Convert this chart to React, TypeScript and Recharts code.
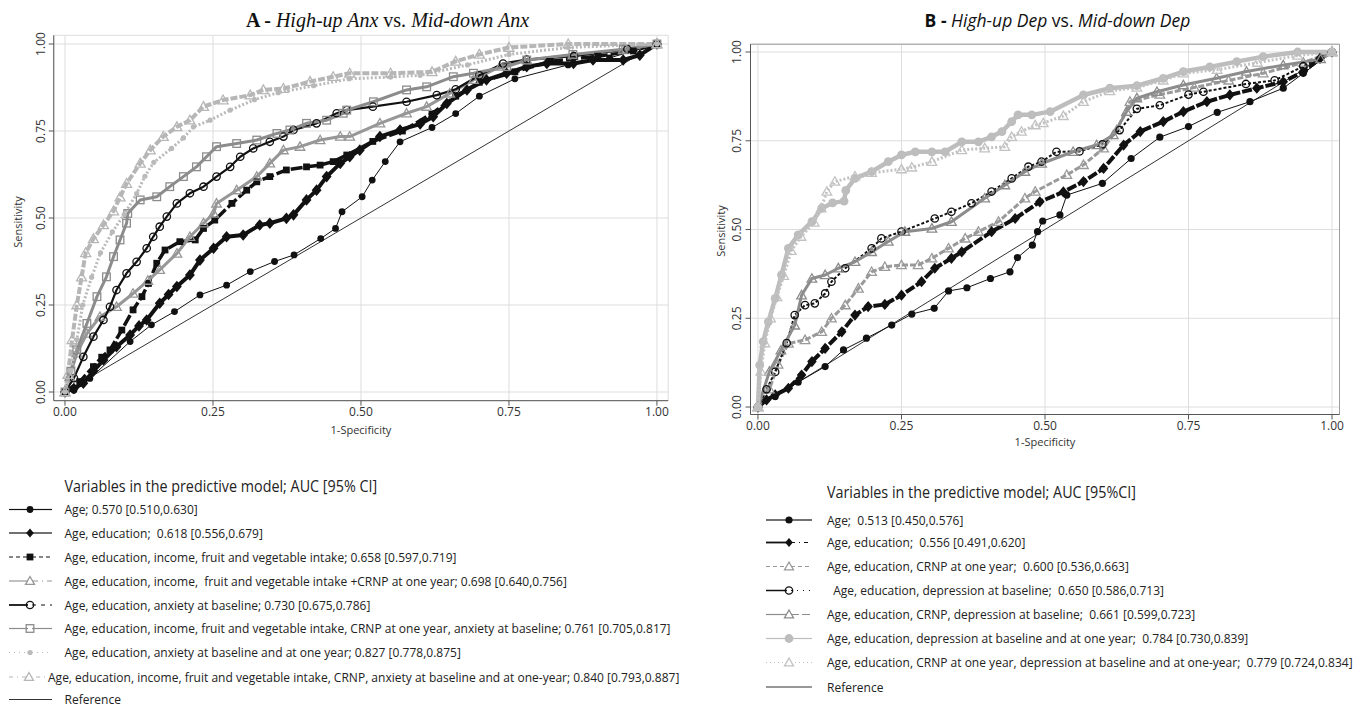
import React from 'react';
import { LineChart, Line, XAxis, YAxis, CartesianGrid, ReferenceArea, Label } from 'recharts';

type Pt = [number, number];

// ---------------- tick values / labels ----------------
const TICKS = [0, 0.25, 0.5, 0.75, 1];
const TICK_LABELS = ['0.00', '0.25', '0.50', '0.75', '1.00'];
const REFERENCE: Pt[] = [[0, 0], [1, 1]];

// ---------------- Panel A: High-up Anx vs. Mid-down Anx ----------------
const A_AGE: Pt[] = [[0,0],[0.015,0.005],[0.042,0.039],[0.11,0.145],[0.146,0.193],[0.185,0.231],[0.228,0.279],[0.273,0.307],[0.313,0.346],[0.354,0.375],[0.387,0.394],[0.432,0.441],[0.457,0.47],[0.468,0.518],[0.502,0.561],[0.519,0.609],[0.541,0.662],[0.566,0.719],[0.62,0.76],[0.66,0.8],[0.7,0.85],[0.76,0.9],[0.85,0.94],[0.92,0.96],[1,1]];
const A_AGE_EDU: Pt[] = [[0,0],[0.015,0.01],[0.031,0.025],[0.048,0.06],[0.065,0.092],[0.087,0.13],[0.11,0.164],[0.125,0.19],[0.138,0.207],[0.16,0.255],[0.175,0.28],[0.189,0.303],[0.211,0.336],[0.228,0.379],[0.251,0.413],[0.273,0.446],[0.301,0.451],[0.329,0.48],[0.346,0.485],[0.374,0.499],[0.386,0.509],[0.408,0.552],[0.425,0.58],[0.442,0.619],[0.465,0.657],[0.481,0.676],[0.498,0.695],[0.532,0.734],[0.566,0.753],[0.6,0.77],[0.622,0.791],[0.645,0.829],[0.679,0.868],[0.712,0.897],[0.746,0.916],[0.78,0.935],[0.814,0.944],[0.859,0.944],[0.892,0.954],[0.943,0.954],[0.971,0.968],[1,1]];
const A_INC_FV: Pt[] = [[0,0],[0.025,0.03],[0.048,0.073],[0.062,0.1],[0.076,0.121],[0.096,0.178],[0.115,0.236],[0.13,0.274],[0.141,0.312],[0.155,0.37],[0.169,0.408],[0.194,0.432],[0.22,0.437],[0.234,0.47],[0.253,0.494],[0.282,0.542],[0.307,0.58],[0.324,0.604],[0.346,0.619],[0.374,0.638],[0.408,0.647],[0.431,0.652],[0.453,0.662],[0.476,0.681],[0.52,0.72],[0.57,0.75],[0.62,0.8],[0.66,0.85],[0.7,0.89],[0.76,0.92],[0.82,0.95],[0.9,0.965],[0.96,0.98],[1,1]];
const A_INC_FV_CRNP: Pt[] = [[0,0],[0.008,0.044],[0.02,0.111],[0.037,0.168],[0.059,0.216],[0.087,0.245],[0.115,0.283],[0.14,0.32],[0.16,0.351],[0.189,0.398],[0.211,0.446],[0.234,0.485],[0.251,0.513],[0.256,0.542],[0.29,0.58],[0.324,0.619],[0.346,0.657],[0.369,0.695],[0.397,0.705],[0.431,0.724],[0.465,0.734],[0.481,0.734],[0.532,0.772],[0.577,0.801],[0.611,0.82],[0.65,0.858],[0.69,0.897],[0.735,0.935],[0.78,0.954],[0.858,0.968],[0.943,0.983],[1,1]];
const A_ANX: Pt[] = [[0,0],[0.015,0.04],[0.031,0.101],[0.048,0.159],[0.065,0.207],[0.076,0.245],[0.087,0.293],[0.104,0.341],[0.121,0.374],[0.138,0.413],[0.149,0.446],[0.16,0.475],[0.172,0.504],[0.189,0.542],[0.211,0.571],[0.234,0.59],[0.256,0.619],[0.279,0.647],[0.296,0.676],[0.318,0.7],[0.346,0.719],[0.369,0.734],[0.386,0.753],[0.425,0.772],[0.459,0.801],[0.476,0.81],[0.52,0.82],[0.577,0.834],[0.628,0.853],[0.66,0.87],[0.7,0.91],[0.74,0.944],[0.78,0.955],[0.86,0.965],[0.95,0.985],[1,1]];
const A_INC_FV_CRNP_ANX: Pt[] = [[0,0],[0.01,0.06],[0.02,0.121],[0.037,0.197],[0.054,0.274],[0.07,0.331],[0.082,0.389],[0.093,0.437],[0.104,0.485],[0.106,0.513],[0.127,0.552],[0.155,0.561],[0.177,0.59],[0.2,0.619],[0.222,0.647],[0.239,0.676],[0.256,0.705],[0.29,0.714],[0.324,0.724],[0.358,0.743],[0.38,0.753],[0.408,0.772],[0.442,0.781],[0.47,0.801],[0.476,0.81],[0.521,0.834],[0.577,0.868],[0.611,0.877],[0.656,0.906],[0.69,0.916],[0.746,0.935],[0.78,0.954],[0.858,0.97],[0.943,0.985],[1,1]];
const A_ANX_1Y: Pt[] = [[0,0],[0.01,0.06],[0.02,0.15],[0.03,0.25],[0.045,0.33],[0.06,0.4],[0.08,0.46],[0.1,0.51],[0.121,0.57],[0.135,0.62],[0.15,0.66],[0.18,0.7],[0.2,0.73],[0.217,0.762],[0.245,0.781],[0.279,0.81],[0.32,0.84],[0.36,0.86],[0.42,0.88],[0.48,0.9],[0.55,0.905],[0.6,0.91],[0.68,0.94],[0.75,0.97],[0.85,0.99],[1,1]];
const A_ALL: Pt[] = [[0,0],[0.005,0.05],[0.012,0.15],[0.02,0.25],[0.028,0.33],[0.035,0.4],[0.048,0.44],[0.065,0.48],[0.082,0.52],[0.093,0.56],[0.104,0.599],[0.127,0.657],[0.144,0.695],[0.166,0.734],[0.189,0.762],[0.211,0.781],[0.234,0.82],[0.267,0.839],[0.313,0.853],[0.335,0.868],[0.369,0.872],[0.414,0.892],[0.453,0.906],[0.481,0.916],[0.55,0.916],[0.62,0.92],[0.66,0.95],[0.7,0.97],[0.75,0.99],[0.85,1],[1,1]];

const A_LABELS = [
  'Age; 0.570 [0.510,0.630]',
  'Age, education;  0.618 [0.556,0.679]',
  'Age, education, income, fruit and vegetable intake; 0.658 [0.597,0.719]',
  'Age, education, income,  fruit and vegetable intake +CRNP at one year; 0.698 [0.640,0.756]',
  'Age, education, anxiety at baseline; 0.730 [0.675,0.786]',
  'Age, education, income, fruit and vegetable intake, CRNP at one year, anxiety at baseline; 0.761 [0.705,0.817]',
  'Age, education, anxiety at baseline and at one year; 0.827 [0.778,0.875]',
  'Age, education, income, fruit and vegetable intake, CRNP, anxiety at baseline and at one-year; 0.840 [0.793,0.887]',
];

// ---------------- Panel B: High-up Dep vs. Mid-down Dep ----------------
const B_AGE: Pt[] = [[0,0],[0.03,0.03],[0.07,0.07],[0.117,0.114],[0.149,0.161],[0.189,0.194],[0.233,0.231],[0.268,0.262],[0.307,0.278],[0.332,0.327],[0.364,0.336],[0.405,0.362],[0.439,0.381],[0.452,0.421],[0.478,0.456],[0.487,0.494],[0.496,0.524],[0.526,0.541],[0.538,0.597],[0.6,0.63],[0.65,0.7],[0.7,0.76],[0.75,0.79],[0.8,0.83],[0.857,0.86],[0.915,0.898],[0.95,0.94],[1,1]];
const B_AGE_EDU: Pt[] = [[0,0],[0.015,0.02],[0.03,0.034],[0.053,0.053],[0.076,0.09],[0.094,0.128],[0.117,0.165],[0.146,0.212],[0.169,0.259],[0.192,0.283],[0.221,0.289],[0.25,0.315],[0.285,0.353],[0.308,0.391],[0.337,0.419],[0.355,0.437],[0.407,0.494],[0.448,0.531],[0.491,0.578],[0.532,0.606],[0.567,0.635],[0.602,0.672],[0.637,0.738],[0.666,0.776],[0.706,0.804],[0.741,0.832],[0.782,0.86],[0.822,0.879],[0.869,0.898],[0.915,0.916],[0.95,0.945],[0.979,0.982],[1,1]];
const B_CRNP: Pt[] = [[0,0],[0.02,0.05],[0.035,0.12],[0.053,0.179],[0.082,0.189],[0.111,0.212],[0.128,0.25],[0.152,0.287],[0.175,0.334],[0.198,0.381],[0.221,0.395],[0.25,0.4],[0.279,0.4],[0.303,0.419],[0.332,0.447],[0.361,0.475],[0.384,0.494],[0.419,0.522],[0.465,0.588],[0.483,0.607],[0.538,0.654],[0.567,0.682],[0.602,0.729],[0.625,0.78],[0.648,0.86],[0.7,0.88],[0.76,0.9],[0.82,0.92],[0.88,0.94],[0.95,0.97],[1,1]];
const B_DEP: Pt[] = [[0,0],[0.015,0.05],[0.03,0.099],[0.05,0.18],[0.064,0.259],[0.082,0.287],[0.099,0.292],[0.117,0.32],[0.128,0.353],[0.152,0.391],[0.198,0.447],[0.215,0.475],[0.25,0.494],[0.308,0.531],[0.337,0.55],[0.372,0.574],[0.407,0.607],[0.442,0.644],[0.471,0.677],[0.494,0.691],[0.52,0.719],[0.56,0.72],[0.6,0.74],[0.63,0.78],[0.66,0.84],[0.7,0.85],[0.75,0.88],[0.776,0.888],[0.85,0.91],[0.9,0.92],[0.95,0.96],[1,1]];
const B_CRNP_DEP: Pt[] = [[0,0],[0.02,0.1],[0.04,0.16],[0.064,0.23],[0.076,0.315],[0.094,0.362],[0.117,0.372],[0.14,0.391],[0.169,0.409],[0.198,0.437],[0.227,0.466],[0.256,0.494],[0.303,0.503],[0.337,0.522],[0.395,0.588],[0.43,0.625],[0.465,0.663],[0.494,0.686],[0.549,0.719],[0.59,0.738],[0.619,0.766],[0.642,0.832],[0.66,0.87],[0.695,0.888],[0.741,0.907],[0.799,0.926],[0.851,0.945],[0.915,0.963],[0.98,0.98],[1,1]];
const B_DEP_1Y: Pt[] = [[0,0],[0.003,0.118],[0.009,0.184],[0.018,0.24],[0.03,0.306],[0.041,0.372],[0.053,0.447],[0.07,0.485],[0.094,0.522],[0.111,0.56],[0.13,0.575],[0.15,0.58],[0.153,0.61],[0.169,0.644],[0.198,0.663],[0.227,0.691],[0.25,0.71],[0.274,0.719],[0.303,0.719],[0.326,0.719],[0.355,0.747],[0.384,0.747],[0.407,0.761],[0.425,0.776],[0.442,0.804],[0.453,0.823],[0.477,0.823],[0.509,0.832],[0.567,0.879],[0.613,0.898],[0.66,0.905],[0.706,0.926],[0.741,0.945],[0.787,0.958],[0.834,0.973],[0.88,0.987],[0.94,1],[1,1]];
const B_CRNP_DEP_1Y: Pt[] = [[0,0],[0.005,0.1],[0.012,0.18],[0.022,0.25],[0.033,0.31],[0.045,0.37],[0.058,0.44],[0.075,0.48],[0.098,0.52],[0.11,0.56],[0.12,0.607],[0.134,0.635],[0.169,0.65],[0.198,0.66],[0.25,0.67],[0.268,0.675],[0.303,0.691],[0.355,0.724],[0.395,0.729],[0.43,0.733],[0.442,0.761],[0.459,0.776],[0.483,0.794],[0.497,0.8],[0.532,0.82],[0.567,0.86],[0.613,0.89],[0.66,0.9],[0.706,0.92],[0.741,0.94],[0.8,0.95],[0.87,0.97],[0.94,0.99],[1,1]];

const B_LABELS = [
  'Age;  0.513 [0.450,0.576]',
  'Age, education;  0.556 [0.491,0.620]',
  'Age, education, CRNP at one year;  0.600 [0.536,0.663]',
  '  Age, education, depression at baseline;  0.650 [0.586,0.713]',
  'Age, education, CRNP, depression at baseline;  0.661 [0.599,0.723]',
  'Age, education, depression at baseline and at one year;  0.784 [0.730,0.839]',
  'Age, education, CRNP at one year, depression at baseline and at one-year;  0.779 [0.724,0.834]',
];

// ---------------- styles ----------------
const BLACK = '#111111';
const SANS = "'Open Sans', 'DejaVu Sans', sans-serif";

type Series = {
  data: Pt[]; label: string; color: string; marker: string; size: number;
  band: number; dash?: string; legL?: string; legR?: string; legW?: number; textX?: number;
};

const SERIES_A: Series[] = [
  { data: A_AGE, label: A_LABELS[0], color: BLACK, marker: 'circle', size: 3.4, band: 1 },
  { data: A_AGE_EDU, label: A_LABELS[1], color: BLACK, marker: 'diamond', size: 5.8, band: 4 },
  { data: A_INC_FV, label: A_LABELS[2], color: BLACK, marker: 'square', size: 3.4, band: 3.5, dash: '12 3', legL: '4 3', legR: '4 3' },
  { data: A_INC_FV_CRNP, label: A_LABELS[3], color: '#979797', marker: 'otri', size: 4.8, band: 3, legR: '6 4 1 4' },
  { data: A_ANX, label: A_LABELS[4], color: BLACK, marker: 'ocircle', size: 3.7, band: 2.2, legR: '4 5', legW: 1.8 },
  { data: A_INC_FV_CRNP_ANX, label: A_LABELS[5], color: '#8c8c8c', marker: 'osquare', size: 3.8, band: 3 },
  { data: A_ANX_1Y, label: A_LABELS[6], color: '#bababa', marker: 'dot', size: 2.6, band: 3, dash: '2 2', legL: '1 4', legR: '1 4' },
  { data: A_ALL, label: A_LABELS[7], color: '#b6b6b6', marker: 'otri', size: 5, band: 4, dash: '7 2', legL: '4 4 1 4', legR: '1 4 4 4', textX: 48 },
];

const SERIES_B: Series[] = [
  { data: B_AGE, label: B_LABELS[0], color: BLACK, marker: 'circle', size: 3.6, band: 1 },
  { data: B_AGE_EDU, label: B_LABELS[1], color: BLACK, marker: 'diamond', size: 5.6, band: 4, dash: '10 2', legR: '4 4 1 4', legW: 1.8 },
  { data: B_CRNP, label: B_LABELS[2], color: '#9a9a9a', marker: 'otri', size: 4.8, band: 3, dash: '6 2', legL: '4 3', legR: '4 3' },
  { data: B_DEP, label: B_LABELS[3], color: BLACK, marker: 'ocircle', size: 3.7, band: 2, dash: '3 2', legR: '1 5', legW: 1.5 },
  { data: B_CRNP_DEP, label: B_LABELS[4], color: '#8c8c8c', marker: 'otri', size: 4.8, band: 3, legR: '8 3' },
  { data: B_DEP_1Y, label: B_LABELS[5], color: '#bdbdbd', marker: 'circle', size: 4.4, band: 4.5 },
  { data: B_CRNP_DEP_1Y, label: B_LABELS[6], color: '#c2c2c2', marker: 'otri', size: 4.8, band: 3, dash: '2 2', legL: '1 3', legR: '1 3' },
];

const toRows = (pts: Pt[]) => pts.map(([x, y]) => ({ x, y }));

function Marker({ kind, cx, cy, color, size }: any) {
  if (cx == null || cy == null || isNaN(cx) || isNaN(cy)) return null;
  const s = size;
  switch (kind) {
    case 'circle':
      return <circle cx={cx} cy={cy} r={s} fill={color} />;
    case 'ocircle':
      return <circle cx={cx} cy={cy} r={s} fill="none" stroke={color} strokeWidth={1.3} />;
    case 'diamond':
      return <polygon points={`${cx},${cy - s} ${cx + s * 0.85},${cy} ${cx},${cy + s} ${cx - s * 0.85},${cy}`} fill={color} />;
    case 'square':
      return <rect x={cx - s} y={cy - s} width={2 * s} height={2 * s} fill={color} />;
    case 'osquare':
      return <rect x={cx - s} y={cy - s} width={2 * s} height={2 * s} fill="none" stroke={color} strokeWidth={1.3} />;
    case 'otri':
      return <polygon points={`${cx},${cy - s} ${cx + s},${cy + s * 0.75} ${cx - s},${cy + s * 0.75}`} fill="none" stroke={color} strokeWidth={1.3} />;
    case 'dot':
      return <circle cx={cx} cy={cy} r={s} fill={color} />;
    default:
      return null;
  }
}

const YTick = (props: any) => {
  const { x, y, payload } = props;
  const bx = x - 1;
  const i = TICKS.indexOf(payload.value);
  return (
    <text x={bx} y={y} transform={`rotate(-90 ${bx} ${y})`} textAnchor="middle" fontSize={12} fill="#333" fontFamily={SANS}>
      {i >= 0 ? TICK_LABELS[i] : payload.value}
    </text>
  );
};

type PanelProps = {
  series: Series[]; width: number; height: number; margin: any;
  xDomain: [number, number]; yDomain: [number, number]; framed: boolean;
  sensX: number; sensY: number; specOffset: number; id: string;
};

function Panel({ series, width, height, margin, xDomain, yDomain, framed, sensX, sensY, specOffset, id }: PanelProps) {
  return (
    <LineChart width={width} height={height} margin={margin}>
      <CartesianGrid stroke="#dddddd" strokeWidth={1} />
      {framed && (
        <ReferenceArea x1={xDomain[0]} x2={xDomain[1]} y1={yDomain[0]} y2={yDomain[1]} fill="none" stroke="#9c9c9c" strokeWidth={1} fillOpacity={0} />
      )}
      <XAxis
        type="number" dataKey="x" domain={xDomain} ticks={TICKS} allowDataOverflow interval={0}
        tickFormatter={(v: number) => TICK_LABELS[TICKS.indexOf(v)] ?? String(v)}
        tickSize={5} tickMargin={2} height={36} stroke="#555"
        tick={{ fontSize: 12, fill: '#333', fontFamily: SANS }}
      >
        <Label value="1-Specificity" position="insideBottom" offset={specOffset} style={{ fontSize: 11, fill: '#333', fontFamily: SANS }} />
      </XAxis>
      <YAxis
        type="number" domain={yDomain} ticks={TICKS} allowDataOverflow interval={0}
        width={40} tickSize={5} tickMargin={3} stroke="#555" tick={<YTick />}
      >
        <Label
          content={() => (
            <text x={sensX} y={sensY} transform={`rotate(-90 ${sensX} ${sensY})`} textAnchor="middle" fontSize={11} fill="#333" fontFamily={SANS}>
              Sensitivity
            </text>
          )}
        />
      </YAxis>
      <Line data={toRows(REFERENCE)} dataKey="y" type="linear" stroke="#333" strokeWidth={1} dot={false} activeDot={false} isAnimationActive={false} />
      {series.map((s, si) => (
        <Line
          key={`${id}-${si}`}
          data={toRows(s.data)}
          dataKey="y"
          type="linear"
          stroke={s.color}
          strokeWidth={s.band}
          strokeDasharray={s.dash}
          strokeLinejoin="round"
          activeDot={false}
          isAnimationActive={false}
          dot={(p: any) => <Marker key={`${id}-${si}-${p.index}`} kind={s.marker} cx={p.cx} cy={p.cy} color={s.color} size={s.size} />}
        />
      ))}
    </LineChart>
  );
}

function LegendSample({ s, x0, x1, mx, y }: { s: Series; x0: number; x1: number; mx: number; y: number }) {
  const w = s.legW ?? 1.2;
  return (
    <g>
      <line x1={x0} y1={y} x2={mx - 2} y2={y} stroke={s.color} strokeWidth={w} strokeDasharray={s.legL} />
      <line x1={mx + 2} y1={y} x2={x1} y2={y} stroke={s.color} strokeWidth={s.legR ? 1.2 : w} strokeDasharray={s.legR} />
      <Marker kind={s.marker} cx={mx} cy={y} color={s.color} size={Math.min(s.size, 4.5)} />
    </g>
  );
}

// condensed legend text (Calibri-like width)
function LText({ x, y, size, children }: { x: number; y: number; size: number; children: any }) {
  return (
    <text transform={`translate(${x} ${y}) scale(0.925 1)`} x={0} y={0} fontFamily={SANS} fontSize={size} fill="#222" style={{ whiteSpace: 'pre' }}>
      {children}
    </text>
  );
}

const A_LEG_Y = [509.5, 533, 557, 581, 605, 628.5, 652.5, 677, 699.5];
const B_LEG_Y = [520, 542.5, 566.5, 590.5, 614.5, 638.5, 662.5, 687];

export default function App() {
  return (
    <div style={{ position: 'absolute', left: 0, top: 0, width: 1359, height: 708, background: '#fff', overflow: 'hidden' }}>
      <div style={{ position: 'absolute', left: 0, top: 0 }}>
        <Panel
          id="A" series={SERIES_A} width={680} height={440}
          margin={{ top: 35.3, right: 11.8, bottom: 3.3, left: 13.75 }}
          xDomain={[-0.019, 1.019]} yDomain={[-0.025, 1.025]} framed={false}
          sensX={22} sensY={222} specOffset={3}
        />
      </div>
      <div style={{ position: 'absolute', left: 680, top: 0 }}>
        <Panel
          id="B" series={SERIES_B} width={679} height={460}
          margin={{ top: 44.2, right: 19.5, bottom: 9.5, left: 30.5 }}
          xDomain={[-0.013, 1.013]} yDomain={[-0.021, 1.022]} framed={true}
          sensX={45} sensY={231} specOffset={5}
        />
      </div>
      <svg width={1359} height={708} style={{ position: 'absolute', left: 0, top: 0, pointerEvents: 'none' }}>
        <text x={387.5} y={27} textAnchor="middle" fontFamily="'Liberation Serif', 'DejaVu Serif', serif" fontSize={20} fill="#111">
          <tspan fontWeight="bold">A - </tspan>
          <tspan fontStyle="italic">High-up Anx</tspan>
          <tspan> vs. </tspan>
          <tspan fontStyle="italic">Mid-down Anx</tspan>
        </text>
        <text x={1057.5} y={27} textAnchor="middle" fontFamily={SANS} fontSize={17.5} fill="#111">
          <tspan fontWeight="bold">B - </tspan>
          <tspan fontStyle="italic">High-up Dep</tspan>
          <tspan> vs. </tspan>
          <tspan fontStyle="italic">Mid-down Dep</tspan>
        </text>

        {/* Legend A */}
        <LText x={64.5} y={492} size={15.5}>Variables in the predictive model; AUC [95% CI]</LText>
        {SERIES_A.map((s, i) => (
          <g key={`la${i}`}>
            <LegendSample s={s} x0={9} x1={i === 7 ? 45 : 52} mx={i === 7 ? 29 : 30} y={A_LEG_Y[i]} />
            <LText x={s.textX ?? 64.5} y={A_LEG_Y[i] + 4.5} size={13}>{s.label}</LText>
          </g>
        ))}
        <line x1={9} y1={A_LEG_Y[8]} x2={52} y2={A_LEG_Y[8]} stroke="#333" strokeWidth={1.2} />
        <LText x={64.5} y={A_LEG_Y[8] + 4.5} size={13}>Reference</LText>

        {/* Legend B */}
        <LText x={827} y={498} size={15.5}>Variables in the predictive model; AUC [95%CI]</LText>
        {SERIES_B.map((s, i) => (
          <g key={`lb${i}`}>
            <LegendSample s={s} x0={766} x1={812} mx={789} y={B_LEG_Y[i]} />
            <LText x={827} y={B_LEG_Y[i] + 4.5} size={13}>{s.label}</LText>
          </g>
        ))}
        <line x1={766} y1={B_LEG_Y[7]} x2={812} y2={B_LEG_Y[7]} stroke="#333" strokeWidth={1.2} />
        <LText x={827} y={B_LEG_Y[7] + 4.5} size={13}>Reference</LText>
      </svg>
    </div>
  );
}
